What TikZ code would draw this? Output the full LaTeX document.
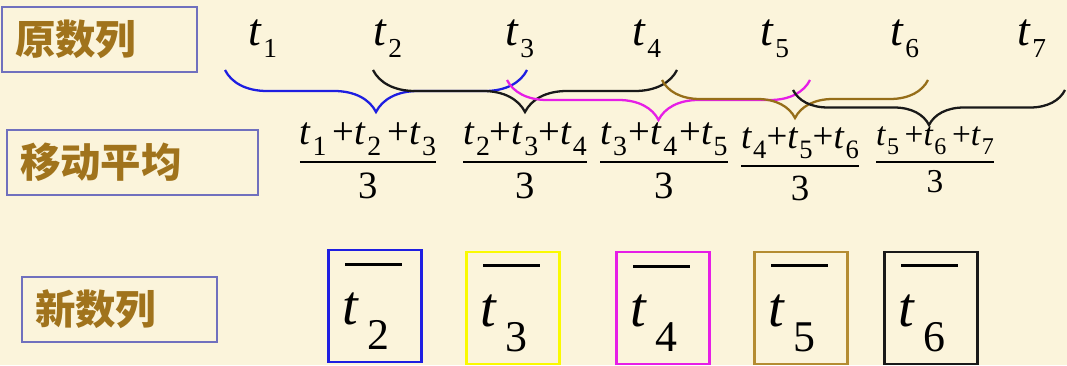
\RequirePackage{fix-cm}
\documentclass[tikz,border=0pt]{standalone}
\usepackage{amsmath}
\usepackage{fontspec}
\setmainfont{Liberation Serif}
\newfontfamily\cjk{Noto Sans CJK SC}
\usetikzlibrary{positioning, decorations.pathreplacing}
\definecolor{bgcream}{RGB}{251,244,219}
\definecolor{lblframe}{RGB}{112,112,190}
\definecolor{lblgold}{RGB}{160,115,28}
\definecolor{bblue}{RGB}{30,30,225}
\definecolor{bmagenta}{RGB}{230,30,230}
\definecolor{bbrown}{RGB}{150,110,25}
\definecolor{boxbrown}{RGB}{180,140,50}
\definecolor{byellow}{RGB}{250,250,0}
\definecolor{bblack}{RGB}{25,25,25}
\newcommand{\tsub}[2][0.6]{\textit{t}\kern0.03em\raisebox{-0.27em}{\scalebox{#1}{#2}}}
\newcommand{\avg}[4][\,]{$\genfrac{}{}{1.1pt}{0}{\hbox{\tsub[0.72]{#2}#1+\tsub[0.72]{#3}#1+\tsub[0.72]{#4}}}{\hbox{3}}$}
\newcommand{\tbar}[1]{\makebox[0pt][l]{\kern0.05em\raisebox{1.05em}{\rule{1em}{0.05em}}}\textit{t}\kern0.14em\raisebox{-0.44em}{\scalebox{0.78}{#1}}}

\begin{document}
\begin{tikzpicture}[x=0.02cm, y=-0.02cm,
  lbox/.style={draw=lblframe, line width=0.8pt, minimum height=1.3cm, inner xsep=0.26cm, align=left, text=lblgold, font=\cjk\bfseries\fontsize{23}{23}\selectfont},
  tlab/.style={inner sep=0pt, anchor=base west, font=\fontsize{26}{26}\selectfont},
  favg/.style={inner sep=0pt, anchor=base, font=\fontsize{22}{22}\selectfont},
  brc/.style={decorate, decoration={brace, mirror, amplitude=#1}, line width=1.3pt},
  nbox/.style={draw, line width=1.2pt, minimum height=2.24cm, text width=1.3cm, inner xsep=0.28cm, align=left, font=\fontsize{32}{32}\selectfont}
]
  \useasboundingbox (0,0) rectangle (1067,365);
  \fill[bgcream] (0,0) rectangle (1067,365);

  % row labels
  \node[lbox, text width=3.38cm] (orig) at (99.5,39.5) {原数列};
  \node[lbox, text width=4.5cm] (mavg) at (132.5,162.5) {移动平均};
  \node[lbox, text width=3.38cm] (newseq) at (119.5,309.5) {新数列};

  % original series
  \foreach \i/\x in {1/248, 2/373, 3/505, 4/632, 5/760, 6/890, 7/1017}
    \node[tlab] (t\i) at (\x,45) {\tsub{\i}};

  % braces over three terms
  \coordinate (bb1) at (225,70);  \coordinate (be1) at (527,70);
  \coordinate (bb2) at (373,70);  \coordinate (be2) at (677,70);
  \coordinate (bb3) at (507,80);  \coordinate (be3) at (810,80);
  \coordinate (bb4) at (662,80);  \coordinate (be4) at (928,80);
  \coordinate (bb5) at (793,90);  \coordinate (be5) at (1065,90);
  \draw[brc=0.84cm, bblue] (bb1) -- (be1);
  \draw[brc=0.84cm, bblack] (bb2) -- (be2);
  \draw[brc=0.8cm, bmagenta] (bb3) -- (be3);
  \draw[brc=0.76cm, bbrown] (bb4) -- (be4);
  \draw[brc=0.7cm, bblack] (bb5) -- (be5);

  % averages
  \node[favg] (a1) at (368,172) {\avg{1}{2}{3}};
  \node[favg] (a2) at (525,172) {\avg[]{2}{3}{4}};
  \node[favg] (a3) at (664,172) {\avg[\kern0.05em]{3}{4}{5}};
  \node[favg, font=\fontsize{21}{21}\selectfont] (a4) at (800,175) {\avg[]{4}{5}{6}};
  \node[favg, font=\fontsize{19}{19}\selectfont] (a5) at (935,170) {\avg{5}{6}{7}};

  % new series
  \node[nbox, draw=bblue] (n2) at (375,306) {\tbar{2}};
  \node[nbox, draw=byellow] (n3) at (513,308) {\tbar{3}};
  \node[nbox, draw=bmagenta] (n4) at (663,308) {\tbar{4}};
  \node[nbox, draw=boxbrown] (n5) at (801,308) {\tbar{5}};
  \node[nbox, draw=bblack] (n6) at (931,308) {\tbar{6}};
\end{tikzpicture}
\end{document}
